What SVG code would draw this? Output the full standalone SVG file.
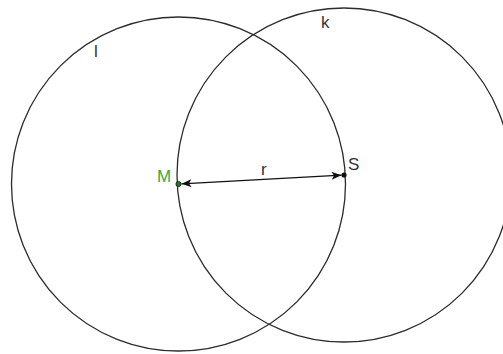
<svg xmlns="http://www.w3.org/2000/svg" width="503" height="354" viewBox="0 0 503 354">
<style>
.c{fill:none;stroke:#2b2b2b;stroke-width:1.3}
.t{font-family:"Liberation Sans",Arial,sans-serif;font-size:17px;fill:#333}
</style>
<defs>
<marker id="ah" viewBox="0 0 10 8" refX="10" refY="4" markerWidth="10" markerHeight="8" markerUnits="userSpaceOnUse" orient="auto-start-reverse">
<path d="M0,0 L10,4 L0,8 L2.5,4 Z" fill="#111"/>
</marker>
</defs>
<rect width="503" height="354" fill="#fff"/>
<g id="circle-l"><circle class="c" cx="178.5" cy="184" r="167"/><text class="t" x="94" y="57">l</text></g>
<g id="circle-k"><circle class="c" cx="344" cy="175" r="167"/><text class="t" x="321" y="28">k</text></g>
<g id="connectors"><line x1="181.5" y1="183.8" x2="341.5" y2="175.2" stroke="#111" stroke-width="1.3" marker-start="url(#ah)" marker-end="url(#ah)"/><text class="t" x="261" y="175">r</text></g>
<g id="M"><circle cx="178.5" cy="184" r="2.6" fill="#1f7a1f" stroke="#111" stroke-width="0.8"/><text class="t" x="157" y="182" style="fill:#3aa83a">M</text></g>
<g id="S"><circle cx="344" cy="175" r="2.6" fill="#111"/><text class="t" x="348" y="170">S</text></g>
</svg>
